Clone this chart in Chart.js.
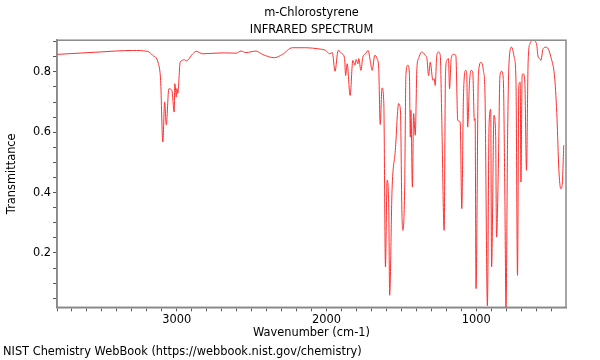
<!DOCTYPE html>
<html>
<head>
<meta charset="utf-8">
<script src="https://cdn.jsdelivr.net/npm/chart.js@4"></script>
<style>
  body { margin: 0; background: #fff; }
</style>
</head>
<body>
<canvas id="ir" width="600" height="360"></canvas>
<script>
// m-Chlorostyrene IR spectrum
var wavenumber = [3800,3514,3294,3195,3161,3123,3108,3093,3081,3070,
  3053,3033,3017,3013,3003,2999,2993,2977,2948,2937,
  2893,2870,2827,2782,2682,2604,2571,2538,2471,2427,
  2349,2294,2228,2138,2050,2005,1979,1961,1943,1922,
  1895,1879,1872,1862,1842,1824,1810,1802,1790,1784,
  1770,1757,1739,1722,1706,1695,1677,1662,1651,1641,
  1629,1617,1606,1595,1584,1578,1562,1540,1518,1506,
  1496,1489,1478,1469,1456,1446,1440,1436,1426,1418,
  1407,1396,1385,1363,1340,1329,1318,1307,1289,1280,
  1274,1263,1252,1240,1230,1214,1205,1196,1185,1178,
  1167,1152,1136,1123,1107,1096,1085,1070,1063,1057,
  1045,1034,1023,1012,1007,1001,985,967,952,941,
  925,914,903,897,881,870,864,852,841,830,
  819,808,801,790,781,764,746,734,724,715,
  706,701,693,686,675,664,653,641,619,597,
  586,575,568,553,531,498,475,460,448,435,
  426,415];

var transmittance = [0.858,0.866,0.871,0.868,0.855,0.828,0.772,0.568,0.700,0.625,
  0.744,0.739,0.667,0.761,0.717,0.745,0.729,0.832,0.840,0.836,
  0.860,0.868,0.860,0.861,0.863,0.862,0.869,0.864,0.869,0.858,
  0.847,0.858,0.880,0.880,0.876,0.871,0.860,0.864,0.802,0.871,
  0.860,0.844,0.788,0.827,0.722,0.838,0.822,0.841,0.827,0.844,
  0.805,0.849,0.860,0.871,0.832,0.805,0.855,0.844,0.811,0.626,
  0.747,0.696,0.154,0.441,0.352,0.060,0.408,0.540,0.695,0.673,
  0.330,0.275,0.408,0.794,0.822,0.794,0.584,0.673,0.419,0.662,
  0.590,0.811,0.844,0.866,0.855,0.844,0.788,0.832,0.772,0.777,
  0.755,0.855,0.866,0.855,0.650,0.275,0.794,0.838,0.844,0.744,
  0.844,0.858,0.855,0.639,0.634,0.347,0.717,0.805,0.794,0.617,
  0.761,0.805,0.799,0.639,0.645,0.082,0.794,0.832,0.805,0.722,
  0.025,0.623,0.676,0.154,0.656,0.590,0.253,0.480,0.788,0.802,
  0.778,0.371,0.010,0.590,0.827,0.882,0.849,0.766,0.126,0.755,
  0.766,0.435,0.788,0.794,0.766,0.474,0.832,0.893,0.904,0.893,
  0.849,0.844,0.838,0.877,0.882,0.844,0.777,0.645,0.479,0.413,
  0.424,0.557];

var xTicks = [];   // every 100 cm-1, labelled at the thousands
for (var w = 500; w <= 3800; w += 100) xTicks.push(w);
var xLabels = [1000, 2000, 3000];
var yTicks = [0.05,0.1,0.15,0.2,0.25,0.3,0.35,0.4,0.45,0.5,0.55,0.6,0.65,0.7,0.75,0.8,0.85,0.9];
var yLabels = [0.2, 0.4, 0.6, 0.8];

var points = wavenumber.map(function (w, i) { return {x: w, y: transmittance[i]}; });

var font = {family: "'DejaVu Sans', sans-serif", size: 11.4};

// grey frame round the plot area
var frame = {
  id: 'frame',
  afterDraw: function (chart) {
    var a = chart.chartArea, ctx = chart.ctx;
    ctx.save();
    ctx.strokeStyle = '#888';
    ctx.lineWidth = 1.5;
    ctx.strokeRect(a.left, a.top, a.right - a.left, a.bottom - a.top);
    ctx.restore();
  }
};

new Chart(document.getElementById('ir'), {
  type: 'line',
  data: {
    datasets: [{
      data: points,
      borderColor: '#ff3030',
      borderWidth: 1,
      pointRadius: 0,
      cubicInterpolationMode: 'monotone',
      fill: false
    }]
  },
  options: {
    responsive: false,
    animation: false,
    layout: {padding: {left: 3, right: 34, top: 0, bottom: 0}},
    plugins: {
      legend: {display: false},
      tooltip: {enabled: false},
      title: {
        display: true,
        text: ['m-Chlorostyrene', 'INFRARED SPECTRUM'],
        fullSize: false,
        color: '#000',
        font: {family: font.family, size: 11.4, weight: 'normal', lineHeight: 1.5},
        padding: {top: 4, bottom: 2}
      },
      subtitle: {
        display: true,
        position: 'bottom',
        align: 'start',
        text: 'NIST Chemistry WebBook (https://webbook.nist.gov/chemistry)',
        color: '#000',
        font: {family: font.family, size: 11.4, lineHeight: 1.2},
        padding: {top: 0, bottom: 1}
      }
    },
    scales: {
      x: {
        type: 'linear',
        reverse: true,
        min: 400,
        max: 3800,
        afterBuildTicks: function (s) { s.ticks = xTicks.map(function (v) { return {value: v}; }); },
        afterFit: function (s) { s.height = 38; },
        ticks: {
          autoSkip: false,
          maxRotation: 0,
          padding: 2,
          color: '#000',
          font: font,
          callback: function (v) { return xLabels.indexOf(v) >= 0 ? String(v) : ''; }
        },
        grid: {drawOnChartArea: false, drawTicks: true, tickLength: 4, color: '#555'},
        border: {color: '#888', width: 1.5},
        title: {display: true, text: 'Wavenumber (cm-1)', color: '#000', font: font, padding: {top: 0, bottom: 5}}
      },
      y: {
        min: 0.02,
        max: 0.905,
        afterBuildTicks: function (s) { s.ticks = yTicks.map(function (v) { return {value: v}; }); },
        afterFit: function (s) { s.width = 54; },
        ticks: {
          autoSkip: false,
          padding: 2,
          color: '#000',
          font: font,
          callback: function (v) {
            for (var i = 0; i < yLabels.length; i++) {
              if (Math.abs(yLabels[i] - v) < 1e-6) return yLabels[i].toFixed(1);
            }
            return '';
          }
        },
        grid: {drawOnChartArea: false, drawTicks: true, tickLength: 4, color: '#555'},
        border: {color: '#888', width: 1.5},
        title: {display: true, text: 'Transmittance', color: '#000', font: font, padding: {top: 2, bottom: 0}}
      }
    }
  },
  plugins: [frame]
});
</script>
</body>
</html>
